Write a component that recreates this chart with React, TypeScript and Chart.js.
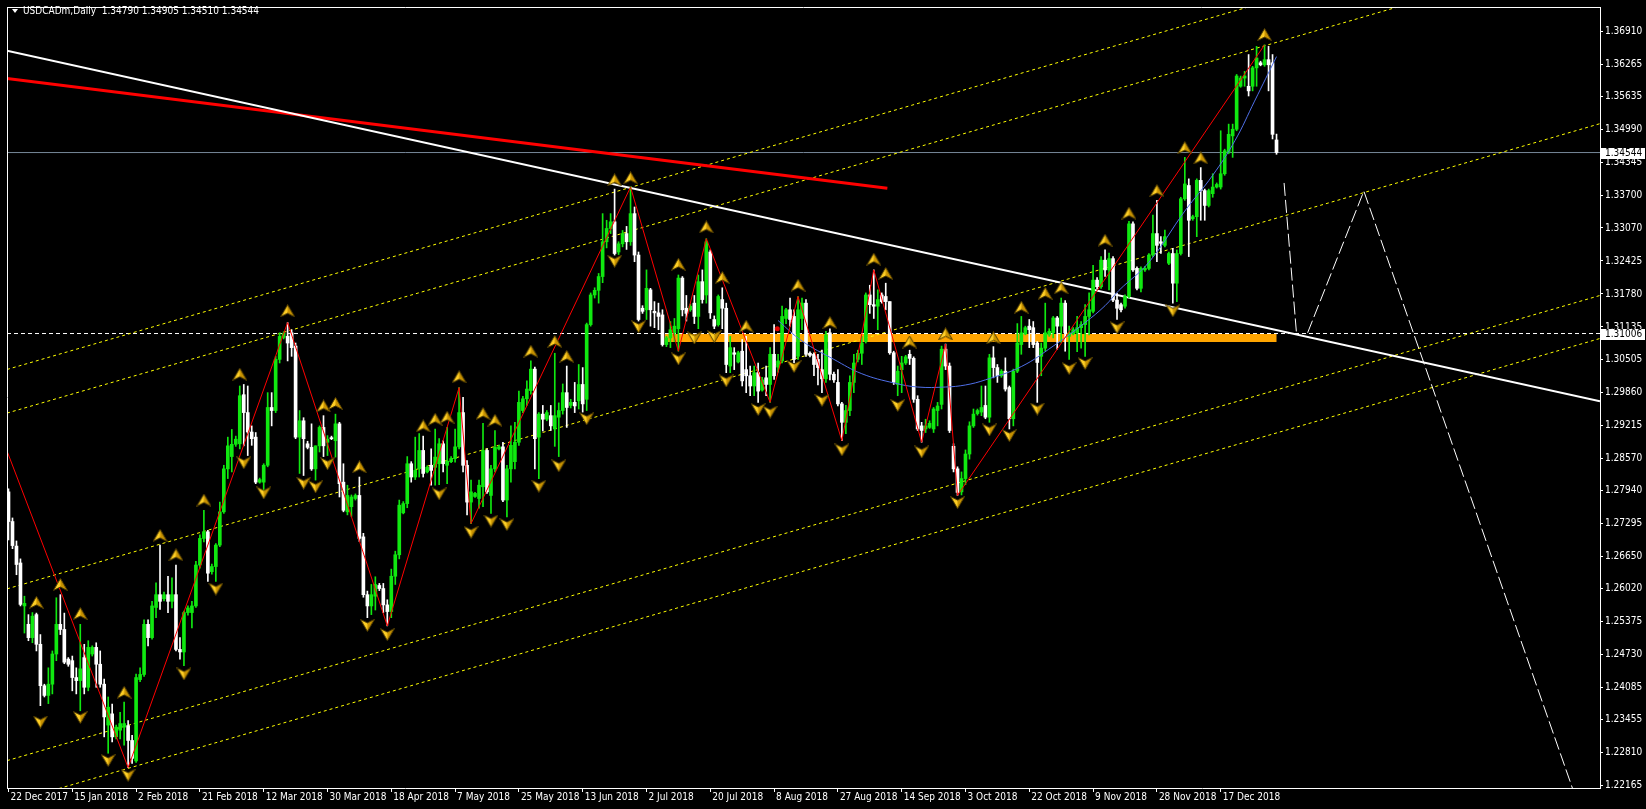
import React, { useEffect, useRef } from 'react';
import { Chart, registerables } from 'chart.js';

Chart.register(...registerables);

const symbolTitle = 'USDCADm,Daily';

const dateTickLabels = ['22 Dec 2017', '15 Jan 2018', '2 Feb 2018', '21 Feb 2018', '12 Mar 2018', '30 Mar 2018', '18 Apr 2018', '7 May 2018', '25 May 2018', '13 Jun 2018', '2 Jul 2018', '20 Jul 2018', '8 Aug 2018', '27 Aug 2018', '14 Sep 2018', '3 Oct 2018', '22 Oct 2018', '9 Nov 2018', '28 Nov 2018', '17 Dec 2018'];
const dateTickBars = [0, 16, 32, 48, 64, 80, 96, 112, 128, 144, 160, 176, 192, 208, 224, 240, 256, 272, 288, 304];

const priceTickLabels = ['1.36910', '1.36265', '1.35635', '1.34990', '1.34345', '1.33700', '1.33070', '1.32425', '1.31780', '1.31135', '1.30505', '1.29860', '1.29215', '1.28570', '1.27940', '1.27295', '1.26650', '1.26020', '1.25375', '1.24730', '1.24085', '1.23455', '1.22810', '1.22165'];

const X_MIN = -0.375;
const X_MAX = 399.125;
const Y_MIN = 1.221203;
const Y_MAX = 1.373898;

const bidPrice = 1.34544;
const levelPrice = 1.31006;

const opens = [
  1.2791, 1.2733, 1.2685, 1.2652, 1.2568, 1.2532, 1.2506, 1.2551, 1.2493, 1.2412,
  1.2393, 1.2415, 1.2474, 1.2532, 1.2522, 1.2464, 1.2461, 1.2428, 1.2422, 1.2467,
  1.2409, 1.2474, 1.2487, 1.2454, 1.2415, 1.2335, 1.2357, 1.2312, 1.2325, 1.2331,
  1.2334, 1.2305, 1.2265, 1.2424, 1.2434, 1.2532, 1.2506, 1.2565, 1.2590, 1.2582,
  1.2590, 1.2577, 1.2590, 1.2483, 1.2478, 1.2555, 1.2555, 1.2568, 1.2648, 1.2700,
  1.2713, 1.2635, 1.2645, 1.2687, 1.2752, 1.2836, 1.2860, 1.2884, 1.2885, 1.2981,
  1.2946, 1.2908, 1.2898, 1.2810, 1.2810, 1.2843, 1.2956, 1.2950, 1.3050, 1.3093,
  1.3095, 1.3102, 1.3076, 1.2898, 1.2930, 1.2885, 1.2878, 1.2836, 1.2881, 1.2917,
  1.2888, 1.2897, 1.2891, 1.2924, 1.2810, 1.2752, 1.2762, 1.2778, 1.2784, 1.2703,
  1.2590, 1.2568, 1.2587, 1.2608, 1.2602, 1.2570, 1.2557, 1.2626, 1.2668, 1.2750,
  1.2768, 1.2846, 1.2820, 1.2836, 1.2872, 1.2830, 1.2843, 1.2839, 1.2846, 1.2885,
  1.2843, 1.2850, 1.2856, 1.2879, 1.2946, 1.2843, 1.2771, 1.2782, 1.2778, 1.2801,
  1.2872, 1.2784, 1.2836, 1.2875, 1.2879, 1.2775, 1.2836, 1.2850, 1.2888, 1.2950,
  1.2973, 1.2989, 1.3031, 1.2898, 1.2943, 1.2933, 1.2940, 1.2914, 1.2937, 1.2950,
  1.2985, 1.2960, 1.2966, 1.2969, 1.3001, 1.2972, 1.3118, 1.3176, 1.3185, 1.3212,
  1.3280, 1.3306, 1.3319, 1.3260, 1.3276, 1.3296, 1.3280, 1.3335, 1.3254, 1.3150,
  1.3147, 1.3186, 1.3144, 1.3141, 1.3137, 1.3079, 1.3092, 1.3102, 1.3110, 1.3209,
  1.3150, 1.3147, 1.3160, 1.3134, 1.3202, 1.3176, 1.3260, 1.3128, 1.3118, 1.3167,
  1.3150, 1.3037, 1.3063, 1.3045, 1.3066, 1.3030, 1.3018, 1.2998, 1.3024, 1.2990,
  1.3014, 1.3001, 1.3060, 1.3035, 1.3047, 1.3130, 1.3147, 1.3134, 1.3056, 1.3130,
  1.3160, 1.3062, 1.3060, 1.3050, 1.3030, 1.3012, 1.3102, 1.3021, 1.3005, 1.2963,
  1.2927, 1.2950, 1.3005, 1.3050, 1.3062, 1.3085, 1.3176, 1.3157, 1.3154, 1.3176,
  1.3173, 1.3163, 1.3063, 1.3001, 1.3030, 1.3043, 1.3060, 1.3052, 1.2972, 1.2920,
  1.2914, 1.2917, 1.2914, 1.2950, 1.2962, 1.3070, 1.3037, 1.2880, 1.2836, 1.2791,
  1.2817, 1.2865, 1.2920, 1.2944, 1.2947, 1.2960, 1.2937, 1.3053, 1.3034, 1.3018,
  1.3027, 1.2995, 1.2934, 1.3027, 1.3079, 1.3100, 1.3115, 1.3112, 1.3082, 1.3056,
  1.3072, 1.3098, 1.3102, 1.3131, 1.3115, 1.3160, 1.3095, 1.3100, 1.3102, 1.3112,
  1.3118, 1.3134, 1.3144, 1.3205, 1.3192, 1.3244, 1.3225, 1.3247, 1.3166, 1.3157,
  1.3154, 1.3173, 1.3315, 1.3228, 1.3189, 1.3225, 1.3228, 1.3254, 1.3296, 1.3280,
  1.3273, 1.3238, 1.3257, 1.3199, 1.3257, 1.3364, 1.3390, 1.3325, 1.3329, 1.3400,
  1.3380, 1.3351, 1.3374, 1.3387, 1.3387, 1.3413, 1.3455, 1.3487, 1.3500, 1.3584,
  1.3600, 1.3584, 1.3584, 1.3620, 1.3630, 1.3626, 1.3636, 1.3630, 1.34790,
];

const highs = [
  1.2797, 1.2740, 1.2695, 1.2660, 1.2587, 1.2551, 1.2555, 1.2554, 1.2512, 1.2415,
  1.2447, 1.2480, 1.2584, 1.2590, 1.2554, 1.2467, 1.2470, 1.2447, 1.2532, 1.2493,
  1.2500, 1.2490, 1.2496, 1.2480, 1.2425, 1.2390, 1.2376, 1.2335, 1.2360, 1.2380,
  1.2344, 1.2315, 1.2435, 1.2447, 1.2541, 1.2541, 1.2577, 1.2613, 1.2687, 1.2595,
  1.2626, 1.2623, 1.2648, 1.2506, 1.2558, 1.2568, 1.2577, 1.2655, 1.2707, 1.2755,
  1.2716, 1.2650, 1.2690, 1.2771, 1.2843, 1.2898, 1.2913, 1.2900, 1.2998, 1.3001,
  1.2998, 1.2920, 1.2907, 1.2818, 1.2846, 1.2985, 1.2985, 1.3056, 1.3102, 1.3104,
  1.3122, 1.3108, 1.3082, 1.2950, 1.2936, 1.2890, 1.2924, 1.2881, 1.2920, 1.2940,
  1.2901, 1.2900, 1.2943, 1.2927, 1.2846, 1.2804, 1.2785, 1.2787, 1.2820, 1.2710,
  1.2597, 1.2610, 1.2625, 1.2612, 1.2612, 1.2580, 1.2640, 1.2675, 1.2775, 1.2772,
  1.2860, 1.2850, 1.2898, 1.2905, 1.2900, 1.2842, 1.2875, 1.2914, 1.2895, 1.2891,
  1.2917, 1.2860, 1.2914, 1.2995, 1.2976, 1.2852, 1.2814, 1.2790, 1.2814, 1.2925,
  1.2875, 1.2843, 1.2911, 1.2882, 1.2888, 1.2843, 1.2920, 1.2927, 1.2988, 1.2978,
  1.3008, 1.3047, 1.3035, 1.2946, 1.2960, 1.2950, 1.2960, 1.3062, 1.2965, 1.3002,
  1.3037, 1.2972, 1.3005, 1.3040, 1.3034, 1.3121, 1.3180, 1.3190, 1.3218, 1.3335,
  1.3322, 1.3335, 1.3383, 1.3280, 1.3302, 1.3310, 1.3387, 1.3348, 1.3260, 1.3155,
  1.3225, 1.3189, 1.3163, 1.3160, 1.3147, 1.3095, 1.3124, 1.3130, 1.3215, 1.3212,
  1.3175, 1.3158, 1.3175, 1.3215, 1.3225, 1.3286, 1.3264, 1.3135, 1.3176, 1.3190,
  1.3160, 1.3095, 1.3073, 1.3066, 1.3089, 1.3095, 1.3037, 1.3037, 1.3043, 1.3015,
  1.3037, 1.3073, 1.3118, 1.3060, 1.3154, 1.3150, 1.3170, 1.3147, 1.3173, 1.3170,
  1.3167, 1.3065, 1.3063, 1.3060, 1.3068, 1.3105, 1.3110, 1.3025, 1.3030, 1.2966,
  1.2960, 1.3018, 1.3060, 1.3068, 1.3095, 1.3180, 1.3195, 1.3225, 1.3186, 1.3180,
  1.3199, 1.3163, 1.3066, 1.3037, 1.3056, 1.3058, 1.3068, 1.3055, 1.2979, 1.2927,
  1.2933, 1.2930, 1.2956, 1.2966, 1.3076, 1.3080, 1.3043, 1.2885, 1.2840, 1.2830,
  1.2873, 1.2928, 1.2953, 1.2953, 1.2998, 1.2998, 1.3060, 1.3075, 1.3040, 1.3030,
  1.3053, 1.2998, 1.3031, 1.3120, 1.3134, 1.3115, 1.3128, 1.3124, 1.3085, 1.3082,
  1.3160, 1.3110, 1.3134, 1.3134, 1.3170, 1.3165, 1.3115, 1.3112, 1.3134, 1.3124,
  1.3157, 1.3180, 1.3234, 1.3210, 1.3251, 1.3264, 1.3258, 1.3251, 1.3179, 1.3160,
  1.3176, 1.3320, 1.3319, 1.3231, 1.3231, 1.3232, 1.3257, 1.3332, 1.3361, 1.3290,
  1.3303, 1.3260, 1.3267, 1.3264, 1.3367, 1.3445, 1.3403, 1.3332, 1.3403, 1.3425,
  1.3383, 1.3383, 1.3413, 1.3395, 1.3497, 1.3461, 1.3510, 1.3510, 1.3607, 1.3604,
  1.3613, 1.3646, 1.3623, 1.3662, 1.3633, 1.3665, 1.3662, 1.3646, 1.34905,
];

const lows = [
  1.2697, 1.2680, 1.2629, 1.2568, 1.2515, 1.2500, 1.2496, 1.2480, 1.2373, 1.2390,
  1.2377, 1.2396, 1.2461, 1.2512, 1.2455, 1.2450, 1.2402, 1.2396, 1.2363, 1.2396,
  1.2402, 1.2470, 1.2409, 1.2409, 1.2312, 1.2280, 1.2302, 1.2308, 1.2308, 1.2296,
  1.2252, 1.2260, 1.2262, 1.2420, 1.2430, 1.2490, 1.2503, 1.2545, 1.2561, 1.2578,
  1.2555, 1.2564, 1.2480, 1.2464, 1.2451, 1.2550, 1.2525, 1.2565, 1.2642, 1.2693,
  1.2616, 1.2630, 1.2616, 1.2684, 1.2749, 1.2817, 1.2830, 1.2880, 1.2875, 1.2881,
  1.2862, 1.2882, 1.2807, 1.2808, 1.2794, 1.2840, 1.2920, 1.2946, 1.3043, 1.3090,
  1.3047, 1.3056, 1.2895, 1.2827, 1.2823, 1.2875, 1.2833, 1.2814, 1.2869, 1.2860,
  1.2862, 1.2893, 1.2859, 1.2781, 1.2752, 1.2746, 1.2743, 1.2775, 1.2694, 1.2585,
  1.2545, 1.2551, 1.2560, 1.2598, 1.2555, 1.2529, 1.2545, 1.2610, 1.2660, 1.2748,
  1.2760, 1.2810, 1.2815, 1.2820, 1.2820, 1.2828, 1.2804, 1.2804, 1.2805, 1.2830,
  1.2807, 1.2848, 1.2849, 1.2875, 1.2830, 1.2746, 1.2729, 1.2780, 1.2759, 1.2762,
  1.2788, 1.2749, 1.2830, 1.2873, 1.2772, 1.2742, 1.2810, 1.2836, 1.2882, 1.2946,
  1.2960, 1.2982, 1.2836, 1.2817, 1.2910, 1.2930, 1.2911, 1.2880, 1.2860, 1.2943,
  1.2917, 1.2955, 1.2946, 1.2953, 1.2947, 1.2950, 1.3115, 1.3170, 1.3160, 1.3200,
  1.3268, 1.3296, 1.3254, 1.3255, 1.3270, 1.3265, 1.3273, 1.3241, 1.3125, 1.3140,
  1.3128, 1.3115, 1.3112, 1.3108, 1.3076, 1.3075, 1.3073, 1.3085, 1.3066, 1.3135,
  1.3125, 1.3144, 1.3120, 1.3110, 1.3160, 1.3160, 1.3130, 1.3110, 1.3115, 1.3110,
  1.3024, 1.3024, 1.3030, 1.3043, 1.2998, 1.2985, 1.2979, 1.2979, 1.2966, 1.2988,
  1.2979, 1.2966, 1.3011, 1.3025, 1.3043, 1.3120, 1.3115, 1.3043, 1.3050, 1.3108,
  1.3056, 1.3055, 1.3018, 1.3000, 1.2985, 1.3005, 1.3010, 1.3005, 1.2959, 1.2891,
  1.2905, 1.2940, 1.2985, 1.3045, 1.3040, 1.3082, 1.3140, 1.3130, 1.3108, 1.3160,
  1.3147, 1.3060, 1.3001, 1.2979, 1.2985, 1.3040, 1.3040, 1.2966, 1.2911, 1.2888,
  1.2907, 1.2915, 1.2907, 1.2920, 1.2953, 1.3030, 1.2907, 1.2830, 1.2784, 1.2785,
  1.2805, 1.2855, 1.2917, 1.2941, 1.2940, 1.2934, 1.2927, 1.3014, 1.3005, 1.3015,
  1.2988, 1.2914, 1.2920, 1.3024, 1.3060, 1.3098, 1.3073, 1.3073, 1.2966, 1.3018,
  1.3066, 1.3095, 1.3092, 1.3070, 1.3083, 1.3066, 1.3050, 1.3098, 1.3065, 1.3072,
  1.3056, 1.3098, 1.3141, 1.3188, 1.3189, 1.3212, 1.3186, 1.3163, 1.3128, 1.3143,
  1.3150, 1.3170, 1.3222, 1.3186, 1.3182, 1.3222, 1.3225, 1.3251, 1.3241, 1.3257,
  1.3270, 1.3235, 1.3160, 1.3163, 1.3254, 1.3361, 1.3251, 1.3322, 1.3290, 1.3322,
  1.3322, 1.3348, 1.3367, 1.3385, 1.3383, 1.3410, 1.3452, 1.3445, 1.3497, 1.3582,
  1.3584, 1.3565, 1.3575, 1.3584, 1.3624, 1.3623, 1.3575, 1.3481, 1.34510,
];

const closes = [
  1.2733, 1.2686, 1.2649, 1.2571, 1.2573, 1.2506, 1.2548, 1.2493, 1.2412, 1.2393,
  1.2415, 1.2474, 1.2532, 1.2522, 1.2458, 1.2454, 1.2428, 1.2422, 1.2445, 1.2409,
  1.2487, 1.2487, 1.2454, 1.2415, 1.2351, 1.2370, 1.2312, 1.2331, 1.2338, 1.2338,
  1.2305, 1.2270, 1.2428, 1.2434, 1.2532, 1.2506, 1.2568, 1.2590, 1.2577, 1.2590,
  1.2577, 1.2590, 1.2483, 1.2478, 1.2555, 1.2564, 1.2568, 1.2648, 1.2700, 1.2713,
  1.2632, 1.2645, 1.2687, 1.2752, 1.2836, 1.2881, 1.2884, 1.2894, 1.2979, 1.2946,
  1.2908, 1.2895, 1.2810, 1.2815, 1.2843, 1.2956, 1.2950, 1.3050, 1.3095, 1.3101,
  1.3082, 1.3073, 1.2898, 1.2930, 1.2895, 1.2878, 1.2836, 1.2881, 1.2917, 1.2881,
  1.2894, 1.2895, 1.2924, 1.2807, 1.2755, 1.2784, 1.2781, 1.2784, 1.2700, 1.2590,
  1.2568, 1.2590, 1.2610, 1.2602, 1.2570, 1.2557, 1.2626, 1.2668, 1.2765, 1.2768,
  1.2846, 1.2820, 1.2833, 1.2872, 1.2827, 1.2839, 1.2833, 1.2859, 1.2885, 1.2846,
  1.2851, 1.2856, 1.2879, 1.2946, 1.2843, 1.2771, 1.2791, 1.2788, 1.2804, 1.2872,
  1.2791, 1.2836, 1.2878, 1.2879, 1.2775, 1.2836, 1.2882, 1.2888, 1.2966, 1.2973,
  1.2992, 1.3031, 1.2895, 1.2943, 1.2933, 1.2946, 1.2920, 1.2940, 1.2950, 1.2985,
  1.2956, 1.2966, 1.2959, 1.3001, 1.2963, 1.3118, 1.3176, 1.3185, 1.3212, 1.3280,
  1.3306, 1.3319, 1.3257, 1.3276, 1.3296, 1.3280, 1.3335, 1.3254, 1.3128, 1.3144,
  1.3189, 1.3147, 1.3141, 1.3134, 1.3079, 1.3092, 1.3108, 1.3115, 1.3209, 1.3147,
  1.3140, 1.3154, 1.3134, 1.3202, 1.3167, 1.3280, 1.3141, 1.3115, 1.3173, 1.3150,
  1.3040, 1.3073, 1.3060, 1.3063, 1.3008, 1.3018, 1.2998, 1.3024, 1.2988, 1.3010,
  1.3001, 1.3060, 1.3018, 1.3047, 1.3134, 1.3147, 1.3128, 1.3050, 1.3147, 1.3160,
  1.3060, 1.3058, 1.3040, 1.3034, 1.3012, 1.3098, 1.3021, 1.3010, 1.2963, 1.2927,
  1.2950, 1.3005, 1.3043, 1.3062, 1.3082, 1.3176, 1.3157, 1.3154, 1.3167, 1.3163,
  1.3163, 1.3063, 1.3005, 1.3027, 1.3043, 1.3055, 1.3052, 1.2972, 1.2914, 1.2911,
  1.2920, 1.2925, 1.2953, 1.2959, 1.3070, 1.3037, 1.2911, 1.2836, 1.2790, 1.2817,
  1.2865, 1.2920, 1.2943, 1.2950, 1.2956, 1.2937, 1.3053, 1.3034, 1.3018, 1.3027,
  1.2992, 1.2934, 1.3027, 1.3082, 1.3102, 1.3112, 1.3108, 1.3079, 1.3044, 1.3072,
  1.3102, 1.3105, 1.3131, 1.3115, 1.3160, 1.3102, 1.3102, 1.3108, 1.3112, 1.3118,
  1.3134, 1.3147, 1.3205, 1.3192, 1.3244, 1.3225, 1.3247, 1.3166, 1.3150, 1.3147,
  1.3173, 1.3315, 1.3225, 1.3189, 1.3228, 1.3228, 1.3254, 1.3296, 1.3273, 1.3277,
  1.3290, 1.3257, 1.3199, 1.3257, 1.3364, 1.3393, 1.3322, 1.3329, 1.3400, 1.3380,
  1.3351, 1.3380, 1.3387, 1.3392, 1.3413, 1.3458, 1.3490, 1.3500, 1.3604, 1.3600,
  1.3604, 1.3575, 1.3620, 1.3639, 1.3626, 1.3636, 1.3626, 1.3490, 1.34544,
];

// ZigZag vertices [bar, price]
const zigzagPoints = [[-2, 1.2904], [30, 1.2252], [70, 1.3122], [95, 1.2529], [113, 1.2995], [116, 1.2729], [156, 1.3387], [168, 1.3066], [175, 1.3286], [191, 1.2966], [198, 1.3173], [209, 1.2891], [217, 1.3225], [229, 1.2888], [235, 1.3080], [238, 1.2784], [315, 1.3665]];

// Fractal arrows [bar, price]
const fractalUp = [[7, 1.2575], [13, 1.2610], [18, 1.2553], [29, 1.2399], [38, 1.2706], [42, 1.2668], [49, 1.2775], [58, 1.3021], [70, 1.3145], [79, 1.2959], [82, 1.2964], [88, 1.2840], [104, 1.2920], [107, 1.2933], [110, 1.2937], [113, 1.3016], [119, 1.2944], [122, 1.2931], [131, 1.3066], [137, 1.3085], [140, 1.3056], [152, 1.3401], [156, 1.3405], [168, 1.3236], [175, 1.3309], [179, 1.3210], [185, 1.3115], [198, 1.3195], [206, 1.3122], [217, 1.3246], [220, 1.3218], [226, 1.3084], [235, 1.3100], [247, 1.3092], [254, 1.3152], [260, 1.3179], [264, 1.3190], [275, 1.3283], [281, 1.3336], [288, 1.3380], [295, 1.3464], [299, 1.3444], [315, 1.3685]];
const fractalDown = [[8, 1.2341], [18, 1.2350], [25, 1.2266], [30, 1.2237], [44, 1.2435], [52, 1.2601], [59, 1.2848], [64, 1.2789], [74, 1.2808], [77, 1.2801], [80, 1.2846], [90, 1.2530], [95, 1.2512], [108, 1.2787], [116, 1.2712], [121, 1.2734], [125, 1.2727], [133, 1.2802], [138, 1.2842], [145, 1.2934], [152, 1.3242], [158, 1.3114], [168, 1.3051], [172, 1.3092], [177, 1.3095], [180, 1.3008], [188, 1.2952], [191, 1.2947], [197, 1.3036], [204, 1.2970], [209, 1.2873], [223, 1.2960], [229, 1.2869], [238, 1.2770], [246, 1.2912], [251, 1.2901], [258, 1.2953], [266, 1.3032], [270, 1.3042], [278, 1.3112], [292, 1.3145]];

// Regression curve [bar, price]
const regressionCurve = [[193, 1.3126], [199, 1.3086], [207, 1.3050], [214, 1.3022], [222, 1.3004], [228, 1.2996], [235, 1.2996], [240, 1.3000], [245, 1.3010], [254, 1.3036], [262, 1.3076], [270, 1.3122], [275, 1.3155], [278.5, 1.3185], [286, 1.3240], [295, 1.3340], [302, 1.3410], [307.6, 1.3478], [312.5, 1.3555], [318, 1.3642]];
const curveAnchor = [[192.8, 1.3110]];

// Drawn objects [bar, price]
const whiteTrend = [[-0.375, 1.36535], [399.125, 1.29681]];
const redTrend = [[-0.375, 1.35991], [220.4, 1.33848]];
const channelLine1 = [[-0.375, 1.30303], [399.125, 1.39399]];
const channelLine2 = [[-0.375, 1.29450], [399.125, 1.38546]];
const channelLine3 = [[-0.375, 1.26013], [399.125, 1.35109]];
const channelLine4 = [[-0.375, 1.22655], [399.125, 1.31750]];
const channelLine5 = [[-0.375, 1.21813], [399.125, 1.30909]];
const orangeZone = [[164.6, 1.3092], [318, 1.3092]];
const projectionA = [[319.9, 1.3395], [323, 1.3102]];
const projectionB = [[325.8, 1.3102], [339.9, 1.3379], [392.2, 1.2212]];

const FONT = '"DejaVu Sans Condensed", "DejaVu Sans", sans-serif';
const FONT_SIZE = 10;
const BULL = '#10e810';
const BEAR = '#ffffff';

function makeArrow(up: boolean): HTMLCanvasElement {
  const c = document.createElement('canvas');
  c.width = 15;
  c.height = 13;
  const g = c.getContext('2d') as CanvasRenderingContext2D;
  if (!up) {
    g.translate(0, 13);
    g.scale(1, -1);
  }
  const outline = () => {
    g.beginPath();
    g.moveTo(7.5, 0.5);
    g.lineTo(14.5, 12.5);
    g.lineTo(7.5, 9);
    g.lineTo(0.5, 12.5);
    g.closePath();
  };
  outline();
  g.fillStyle = '#ffcf26';
  g.fill();
  g.beginPath();
  g.moveTo(7.5, 0.5);
  g.lineTo(14.5, 12.5);
  g.lineTo(7.5, 9);
  g.closePath();
  g.fillStyle = '#c89200';
  g.fill();
  outline();
  g.strokeStyle = '#4d3a00';
  g.lineWidth = 1;
  g.stroke();
  return c;
}

const pts = (arr: number[][]) => arr.map(([x, y]) => ({ x, y }));

export default function App() {
  const ref = useRef<HTMLCanvasElement>(null);

  useEffect(() => {
    document.body.style.margin = '0';
    document.body.style.background = '#000';
    const canvas = ref.current as HTMLCanvasElement;
    const upArrow = makeArrow(true);
    const downArrow = makeArrow(false);
    const bars = opens.map((_, i) => i);
    const colors = bars.map((i) => (closes[i] >= opens[i] ? BULL : BEAR));

    const line = (data: number[][], color: string, width: number, dash: number[], order: number, extra: any = {}) => ({
      type: 'line',
      data: pts(data),
      borderColor: color,
      backgroundColor: color,
      borderWidth: width,
      borderDash: dash,
      pointRadius: 0,
      fill: false,
      tension: 0,
      clip: 0,
      order,
      ...extra,
    });

    const framePlugin = {
      id: 'mt4frame',
      beforeDraw(chart: any) {
        const c = chart.ctx;
        c.save();
        c.fillStyle = '#000';
        c.fillRect(0, 0, chart.width, chart.height);
        c.restore();
      },
      afterDraw(chart: any) {
        const c = chart.ctx;
        const a = chart.chartArea;
        const ys = chart.scales.y;
        c.save();
        c.strokeStyle = '#ffffff';
        c.lineWidth = 1;
        c.beginPath();
        c.moveTo(a.left + 0.5, a.top);
        c.lineTo(a.left + 0.5, a.bottom);
        c.moveTo(a.left, a.top + 0.5);
        c.lineTo(a.right, a.top + 0.5);
        c.stroke();
        // header
        c.fillStyle = '#ffffff';
        c.beginPath();
        c.moveTo(a.left + 5, 9);
        c.lineTo(a.left + 11, 9);
        c.lineTo(a.left + 8, 13);
        c.closePath();
        c.fill();
        const last = opens.length - 1;
        const header = `${symbolTitle}  ${opens[last].toFixed(5)} ${highs[last].toFixed(5)} ${lows[last].toFixed(5)} ${closes[last].toFixed(5)}`;
        c.font = `${FONT_SIZE}px ${FONT}`;
        c.textBaseline = 'middle';
        c.textAlign = 'left';
        c.fillText(header, a.left + 16, 11);
        // price tags
        [bidPrice, levelPrice].forEach((p) => {
          const y = Math.round(ys.getPixelForValue(p));
          c.fillStyle = '#ffffff';
          c.fillRect(a.right + 1, y - 5, 44, 11);
          c.fillStyle = '#000000';
          c.fillText(p.toFixed(5), a.right + 5, y + 0.5);
        });
        c.restore();
      },
    };

    const chart = new Chart(canvas, {
      type: 'bar',
      data: {
        datasets: [
          { type: 'scatter', data: pts(fractalUp), pointStyle: upArrow, pointRadius: 6, order: 0, clip: 0 },
          { type: 'scatter', data: pts(fractalDown), pointStyle: downArrow, pointRadius: 6, order: 0, clip: 0 },
          line(zigzagPoints, '#ff0000', 1, [], 1),
          line(regressionCurve, '#4f6fe8', 1, [], 2, { tension: 0.4 }),
          { type: 'scatter', data: pts(curveAnchor), pointStyle: 'circle', pointRadius: 2.5, backgroundColor: '#e00000', borderWidth: 0, order: 2 },
          { type: 'bar', data: bars.map((i) => ({ x: i, y: [opens[i], closes[i]] })), backgroundColor: colors, borderWidth: 0, barThickness: 3, minBarLength: 1, grouped: false, order: 3 },
          { type: 'bar', data: bars.map((i) => ({ x: i, y: [lows[i], highs[i]] })), backgroundColor: colors, borderWidth: 0, barThickness: 1, grouped: false, order: 4 },
          line(whiteTrend, '#ffffff', 2, [], 5),
          line(redTrend, '#ff0000', 3, [], 6),
          line(projectionA, '#ffffff', 1, [13, 4], 7),
          line(projectionB, '#ffffff', 1, [13, 4], 7),
          line(channelLine1, '#ffff00', 1, [3, 3], 8),
          line(channelLine2, '#ffff00', 1, [3, 3], 8),
          line(channelLine3, '#ffff00', 1, [3, 3], 8),
          line(channelLine4, '#ffff00', 1, [3, 3], 8),
          line(channelLine5, '#ffff00', 1, [3, 3], 8),
          line([[X_MIN, bidPrice], [X_MAX, bidPrice]], '#778899', 1, [], 9),
          line([[X_MIN, levelPrice], [X_MAX, levelPrice]], '#ffffff', 1, [4, 3], 9),
          line(orangeZone, '#ffa500', 8, [], 10, { borderCapStyle: 'butt' }),
        ] as any,
      },
      options: {
        responsive: false,
        animation: false,
        devicePixelRatio: 1,
        events: [],
        layout: { padding: { left: 2, top: 2, right: 0, bottom: 0 } },
        plugins: { legend: { display: false }, tooltip: { enabled: false } },
        scales: {
          x: {
            type: 'linear',
            position: 'bottom',
            min: X_MIN,
            max: X_MAX,
            bounds: 'data',
            offset: false,
            afterBuildTicks: (s: any) => {
              s.ticks = dateTickBars.map((v) => ({ value: v }));
            },
            afterFit: (s: any) => {
              s.height = 21;
              s.paddingLeft = 0;
              s.paddingRight = 0;
            },
            grid: { display: true, drawOnChartArea: false, drawTicks: true, tickLength: 4, color: '#ffffff', offset: false },
            border: { display: true, color: '#ffffff' },
            ticks: {
              color: '#ffffff',
              font: { family: FONT, size: FONT_SIZE, lineHeight: 1 },
              align: 'start',
              labelOffset: 2,
              padding: 0,
              maxRotation: 0,
              minRotation: 0,
              autoSkip: false,
              callback: (v: any) => {
                const k = dateTickBars.indexOf(Number(v));
                return k >= 0 ? dateTickLabels[k] : '';
              },
            },
          },
          y: {
            type: 'linear',
            position: 'right',
            min: Y_MIN,
            max: Y_MAX,
            bounds: 'data',
            afterBuildTicks: (s: any) => {
              s.ticks = priceTickLabels.map((t) => ({ value: parseFloat(t) }));
            },
            afterFit: (s: any) => {
              s.width = 46;
              s.paddingTop = 0;
              s.paddingBottom = 0;
            },
            grid: { display: true, drawOnChartArea: false, drawTicks: true, tickLength: 3, color: '#ffffff' },
            border: { display: true, color: '#ffffff' },
            ticks: {
              color: '#ffffff',
              font: { family: FONT, size: FONT_SIZE },
              padding: 2,
              autoSkip: false,
              callback: (_v: any, i: number) => priceTickLabels[i],
            },
          },
        },
      } as any,
      plugins: [framePlugin],
    });

    return () => chart.destroy();
  }, []);

  return <canvas ref={ref} width={1646} height={809} style={{ display: 'block', width: 1646, height: 809 }} />;
}
